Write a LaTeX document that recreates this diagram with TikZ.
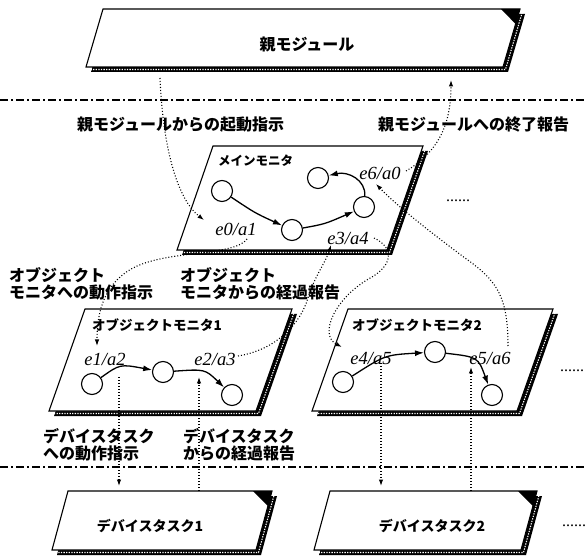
\documentclass[tikz,border=0pt]{standalone}
\usepackage{fontspec}
\setmainfont{Liberation Serif}
\newfontfamily\jpf{Noto Sans CJK JP}
\usetikzlibrary{arrows.meta}
\newcommand{\slantbox}[6]{%
  \fill[black] ({#2-#6+5},{#5+5}) -- ({#2+5},{#4+5}) -- ({#3+5},{#4+5}) -- ({#3-#6+5},{#5+5}) -- cycle;
  \draw[white, line width=1.1pt, dash pattern=on 1.3pt off 1.3pt] ({#2-#6+2.5},{#5+2.5}) -- ({#2+2.5},{#4+2.5}) -- ({#3+2.5},{#4+2.5}) -- ({#3-#6+2.5},{#5+2.5}) -- cycle;
  \draw[boxline] ({#2-#6},#5) coordinate (#1-bl) -- (#2,#4) coordinate (#1-tl) -- (#3,#4) coordinate (#1-tr) -- ({#3-#6},#5) coordinate (#1-br) -- cycle;
}
\newcommand{\dogear}[4]{%
  \fill[black] ({#1-19},#2) -- (#1,#2) -- ({#1-#3*15/#4},{#2+15}) -- cycle;
}
\begin{document}
\begin{tikzpicture}[x=1pt,y=-1pt,
  boxline/.style={draw=black, fill=white, line width=1.1pt},
  st/.style={circle, draw, fill=white, line width=1.1pt, minimum size=21pt, inner sep=0pt},
  trans/.style={line width=1.3pt, -{Latex[length=9pt,width=6pt]}},
  msg/.style={line width=1.1pt, dash pattern=on 1pt off 2pt, -{Latex[length=6.5pt,width=4.5pt]}},
  sep/.style={line width=1.5pt, dash pattern=on 8pt off 3pt on 2pt off 3pt},
  ev/.style={font=\fontsize{18.5}{18.5}\selectfont\itshape, inner sep=0pt},
  jplab/.style={font=\jpf\bfseries\fontsize{16}{17}\selectfont, inner sep=0pt, align=left, anchor=west},
  boxlab/.style={font=\jpf\bfseries\fontsize{14}{14}\selectfont, inner sep=0pt},
  more/.style={font=\fontsize{16}{16}\selectfont, inner sep=0pt, anchor=base west}]
\useasboundingbox (0,0) rectangle (587,556);

% separators
\coordinate (s1l) at (0,100); \coordinate (s1r) at (587,100);
\coordinate (s2l) at (0,467); \coordinate (s2r) at (587,467);
\draw[sep] (s1l) -- (s1r);
\draw[sep] (s2l) -- (s2r);

% boxes
\slantbox{pm}{103}{520}{9}{67}{17}
\dogear{520}{9}{17}{58}
\slantbox{mm}{213}{423}{146}{250}{36}
\slantbox{om1}{85}{292}{309}{411}{36}
\slantbox{om2}{348}{553}{309}{411}{36}
\slantbox{dt1}{68}{272}{491}{550}{16}
\dogear{272}{491}{16}{59}
\slantbox{dt2}{330}{537}{491}{550}{16}
\dogear{537}{491}{16}{59}

% box labels
\node[boxlab, font=\jpf\bfseries\fontsize{16}{16}\selectfont] (pmlab) at (307,44) {親モジュール};
\node[boxlab, anchor=west, font=\jpf\bfseries\fontsize{12.5}{12.5}\selectfont] (mmlab) at (218,161) {メインモニタ};
\node[boxlab, anchor=west, font=\jpf\bfseries\fontsize{13.5}{13.5}\selectfont] (om1lab) at (92,325) {オブジェクトモニタ1};
\node[boxlab, anchor=west, font=\jpf\bfseries\fontsize{13.5}{13.5}\selectfont] (om2lab) at (352,325) {オブジェクトモニタ2};
\node[boxlab] (dt1lab) at (150,526) {デバイスタスク1};
\node[boxlab] (dt2lab) at (432,526) {デバイスタスク2};

% message labels
\node[jplab] (l1) at (77,125) {親モジュールからの起動指示};
\node[jplab] (l2) at (378,125) {親モジュールへの終了報告};
\node[jplab] (l3) at (9,284) {オブジェクト\\モニタへの動作指示};
\node[jplab] (l4) at (180,284) {オブジェクト\\モニタからの経過報告};
\node[jplab] (l5) at (43,445) {デバイスタスク\\への動作指示};
\node[jplab] (l6) at (183,445) {デバイスタスク\\からの経過報告};

% dots
\node[more] (d1) at (446,202) {......};
\node[more] (d2) at (560,372) {......};
\node[more] (d3) at (562,526) {......};

% states
\node[st] (A) at (222,191) {};
\node[st] (B) at (292,230) {};
\node[st] (C) at (364,207) {};
\node[st] (D) at (318,178) {};
\node[st] (E) at (92,384) {};
\node[st] (F) at (163,372) {};
\node[st] (G) at (232,395) {};
\node[st] (H) at (343,382) {};
\node[st] (I) at (435,352) {};
\node[st] (J) at (492,395) {};

\draw[trans] (A) .. controls (255,213) .. (B);
\draw[trans] (B) .. controls (325,224) .. (C);
\draw[trans] (C) .. controls (366,180) and (348,171) .. (D);
\draw[trans] (E) .. controls (120,364) .. (F);
\draw[trans] (F) .. controls (205,369) .. (G);
\draw[trans] (H) .. controls (385,355) .. (I);
\draw[trans] (I) .. controls (478,357) .. (J);

% event labels
\node[ev] (e0) at (236,229) {e0/a1};
\node[ev] (e3) at (348,238) {e3/a4};
\node[ev] (e6) at (380,173) {e6/a0};
\node[ev] (e1) at (105,359) {e1/a2};
\node[ev] (e2) at (215,359) {e2/a3};
\node[ev] (e4) at (371,358) {e4/a5};
\node[ev] (e5) at (490,358) {e5/a6};

% message connectors
\coordinate (m1a) at (160,78);  \coordinate (m1b) at (204,220);
\coordinate (m2a) at (406,171); \coordinate (m2b) at (451,80);
\coordinate (m3a) at (247,239); \coordinate (m3b) at (97,346);
\coordinate (m4a) at (238,356); \coordinate (m4b) at (331,245);
\coordinate (m5a) at (374,238); \coordinate (m5b) at (342,347);
\coordinate (m6a) at (508,346); \coordinate (m6b) at (376,184);
\coordinate (m7a) at (119,377); \coordinate (m7b) at (119,486);
\coordinate (m8a) at (199,491); \coordinate (m8b) at (199,377);
\coordinate (m9a) at (381,363); \coordinate (m9b) at (381,486);
\coordinate (m10a) at (471,491); \coordinate (m10b) at (471,367);

\draw[msg] (m1a) .. controls (163,150) and (178,200) .. (m1b);
\draw[msg] (m2a) .. controls (438,152) and (451,125) .. (m2b);
\draw[msg] (m3a) .. controls (235,256) and (170,250) .. (135,267) .. controls (105,282) and (97,310) .. (m3b);
\draw[msg] (m4a) .. controls (275,350) and (300,325) .. (308,298) .. controls (315,275) and (326,262) .. (m4b);
\draw[msg] (m5a) .. controls (395,248) and (392,265) .. (372,277) .. controls (335,297) and (318,335) .. (m5b);
\draw[msg] (m6a) .. controls (508,295) and (496,280) .. (465,258) .. controls (430,232) and (396,205) .. (m6b);
\draw[msg] (m7a) -- (m7b);
\draw[msg] (m8a) -- (m8b);
\draw[msg] (m9a) -- (m9b);
\draw[msg] (m10a) -- (m10b);
\end{tikzpicture}
\end{document}
